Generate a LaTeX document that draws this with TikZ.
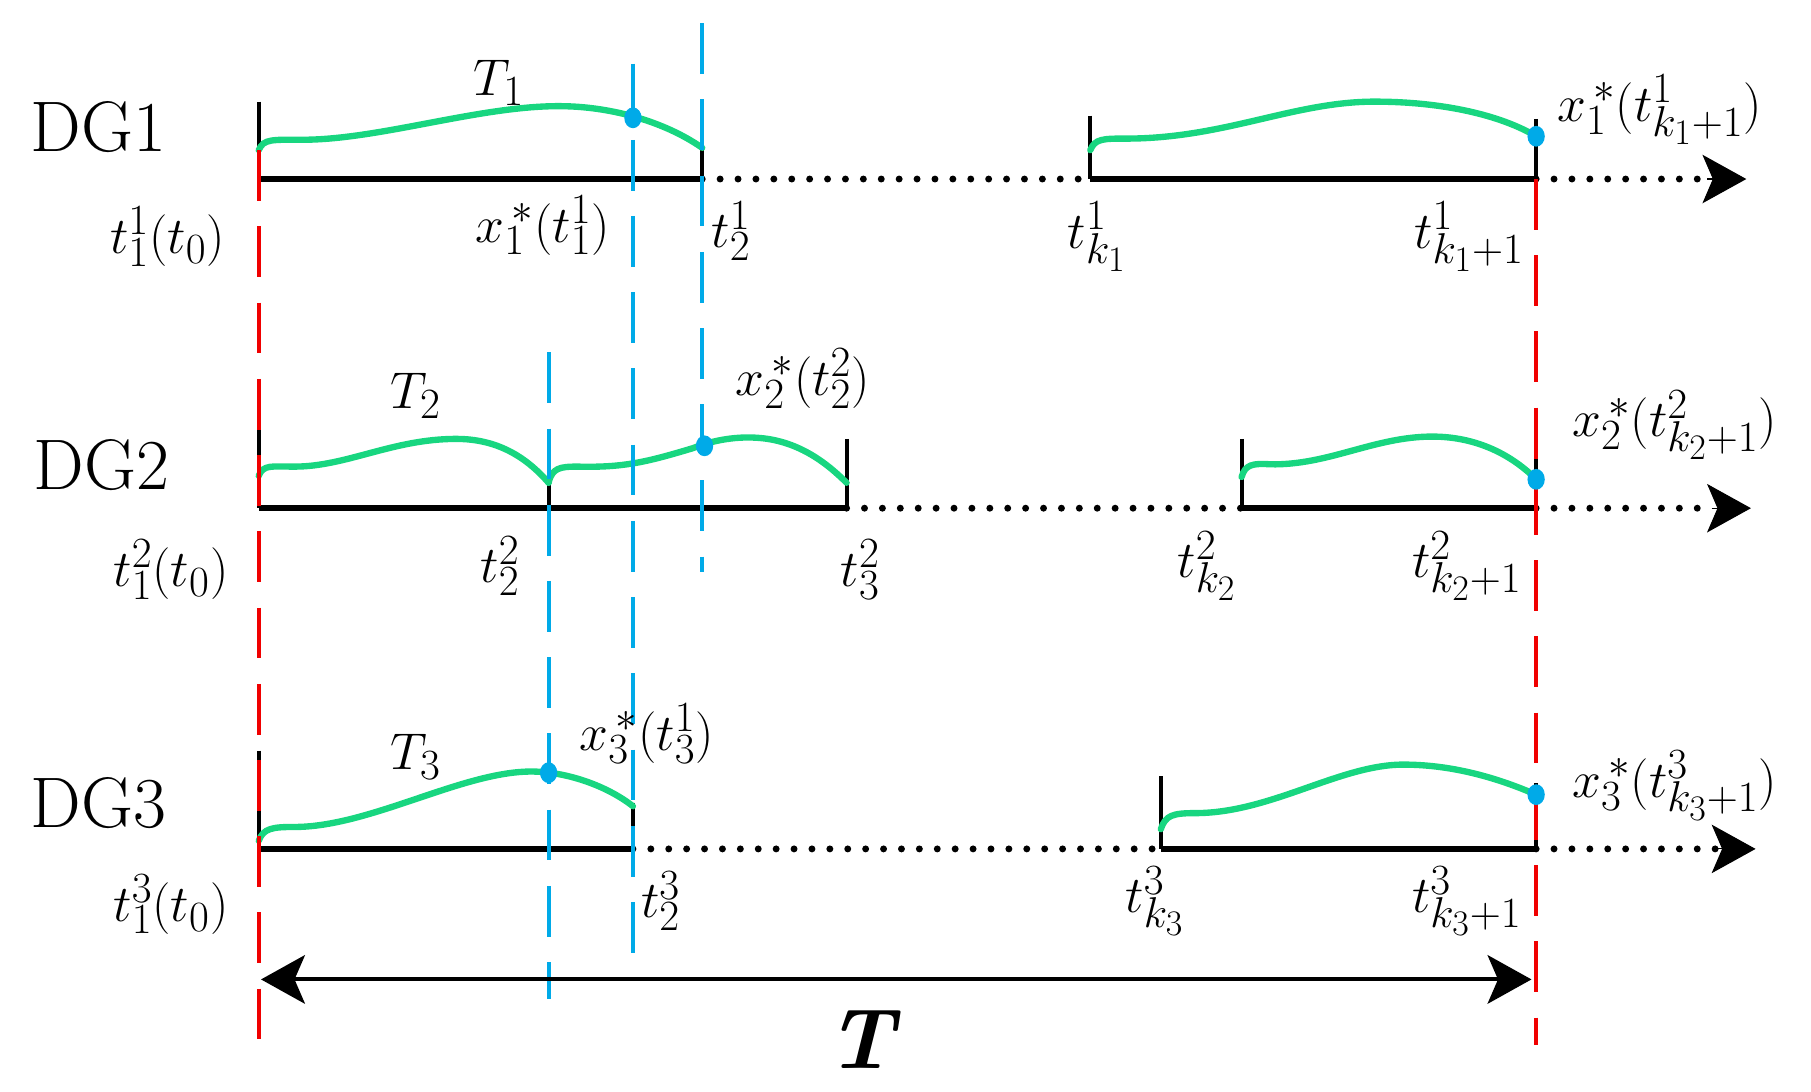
\documentclass[tikz,border=0pt]{standalone}
\usepackage{graphicx}
\usetikzlibrary{arrows.meta}
\definecolor{cgreen}{RGB}{24,214,128}
\definecolor{cblue}{RGB}{0,170,232}
\definecolor{cred}{RGB}{240,0,0}
\newcommand{\lblsc}[1]{\scalebox{1.8}{$#1$}}
\begin{document}
\begin{tikzpicture}[x=1pt,y=-1pt,
  axis/.style={line width=5.5pt},
  dotline/.style={line width=6pt, line cap=round, dash pattern=on 0pt off 15.5pt},
  tickline/.style={line width=3.5pt},
  curve/.style={line width=5.5pt, draw=cgreen, line cap=round},
  reddash/.style={draw=cred, line width=3.5pt, dash pattern=on 44pt off 22pt},
  bluedash/.style={draw=cblue, line width=3.5pt, dash pattern=on 44pt off 22pt},
  head/.style={line width=1pt, -{Stealth[length=38pt,width=42pt,inset=9pt]}},
  lbl/.style={inner sep=0pt, font=\fontsize{24.88}{28}\selectfont},
  dglbl/.style={inner sep=0pt, font=\fontsize{62}{64}\selectfont}
]
\useasboundingbox (0,0) rectangle (1568,945);

% ---------- coordinates ----------
\foreach \r/\y in {1/155,2/440,3/735}{
  \coordinate (a\r) at (224,\y);
  \coordinate (e\r) at (1330,\y);
}
\coordinate (b1) at (608,155);  \coordinate (c1) at (944,155);
\coordinate (b2) at (733,440);  \coordinate (c2) at (1075,440); \coordinate (m2) at (475,440);
\coordinate (b3) at (548,735);  \coordinate (c3) at (1005,735);
\coordinate (h1) at (1478,155); \coordinate (f1) at (1512,155);
\coordinate (h2) at (1482,440); \coordinate (f2) at (1516,440);
\coordinate (h3) at (1486,735); \coordinate (f3) at (1520,735);

% ---------- ticks ----------
\draw[tickline] (224,88) -- (a1);
\draw[tickline] (608,125) -- (b1);
\draw[tickline] (944,100) -- (c1);
\draw[tickline] (1330,103) -- (e1);
\draw[tickline] (224,370) -- (a2);
\draw[tickline] (475,415) -- (m2);
\draw[tickline] (733,380) -- (b2);
\draw[tickline] (1075,380) -- (c2);
\draw[tickline] (1330,388) -- (e2);
\draw[tickline] (224,650) -- (a3);
\draw[tickline] (548,695) -- (b3);
\draw[tickline] (1005,672) -- (c3);
\draw[tickline] (1330,678) -- (e3);

% ---------- axes ----------
\foreach \r in {1,2,3}{
  \draw[axis] (a\r) -- (b\r);
  \draw[dotline] (b\r) -- (c\r);
  \draw[axis] (c\r) -- (e\r);
  \draw[dotline] (e\r) -- (h\r);
  \draw[head] (h\r) -- (f\r);
}

% ---------- green curves ----------
\draw[curve] (224,130) .. controls (228,120) and (236,121) .. (262,121)
  .. controls (330,121) and (420,90) .. (490,92)
  .. controls (530,93) and (575,105) .. (608,128);
\draw[curve] (944,130) .. controls (948,120) and (955,120) .. (975,120)
  .. controls (1060,120) and (1120,88) .. (1190,88)
  .. controls (1250,88) and (1300,100) .. (1330,118);
\draw[curve] (224,412) .. controls (228,402) and (235,404) .. (255,404)
  .. controls (300,404) and (340,380) .. (395,380)
  .. controls (430,380) and (455,395) .. (475,418);
\draw[curve] (475,418) .. controls (478,405) and (485,404) .. (500,404)
  .. controls (540,405) and (560,400) .. (600,388)
  .. controls (620,380) and (640,378) .. (655,379)
  .. controls (690,381) and (715,400) .. (733,418);
\draw[curve] (1075,413) .. controls (1078,402) and (1085,401) .. (1100,402)
  .. controls (1150,403) and (1190,378) .. (1240,378)
  .. controls (1280,378) and (1310,395) .. (1330,415);
\draw[curve] (224,728) .. controls (228,717) and (236,716) .. (255,716)
  .. controls (320,716) and (400,668) .. (460,668)
  .. controls (490,668) and (525,680) .. (548,698);
\draw[curve] (1005,718) .. controls (1009,706) and (1015,704) .. (1035,704)
  .. controls (1100,704) and (1160,662) .. (1215,662)
  .. controls (1260,662) and (1300,675) .. (1330,688);

% ---------- dashed verticals ----------
\draw[reddash] (224,130) -- (224,905);
\draw[reddash] (1330,155) -- (1330,905);
\draw[bluedash] (548,55) -- (548,830);
\draw[bluedash] (608,20) -- (608,495);
\draw[bluedash] (475,305) -- (475,865);

% ---------- blue points ----------
\foreach \p in {(548,102),(1330,118),(610,386),(1330,415),(475,669),(1330,688)}
  \fill[cblue] \p ellipse (7.5pt and 9pt);

% ---------- T arrow ----------
\coordinate (Tl) at (226,848);
\coordinate (Tr) at (1326,848);
\draw[line width=3.5pt, {Stealth[length=38pt,width=42pt,inset=9pt]}-{Stealth[length=38pt,width=42pt,inset=9pt]}] (Tl) -- (Tr);
\node[inner sep=0pt, font=\fontsize{74}{76}\selectfont\bfseries\itshape] (Tlab) at (745,900) {T};

% ---------- row labels ----------
\node[dglbl] (dg1) at (85,110) {DG1};
\node[dglbl] (dg2) at (88,403) {DG2};
\node[dglbl] (dg3) at (85,695) {DG3};

% ---------- DG1 labels ----------
\node[lbl] (T1) at (432,72) {\lblsc{T_1}};
\node[lbl] (x11) at (470,195) {\lblsc{x_1^{\,*}(t_1^1)}};
\node[lbl] (t11) at (145,205) {\lblsc{t_1^1(t_0)}};
\node[lbl] (t21) at (633,200) {\lblsc{t_2^1}};
\node[lbl] (tk1) at (950,205) {\lblsc{t_{k_1}^1}};
\node[lbl] (tk11) at (1272,205) {\lblsc{t_{k_1+1}^1}};
\node[lbl] (xk1) at (1437,95) {\lblsc{x_1^{\,*}(t^1_{k_1+1})}};

% ---------- DG2 labels ----------
\node[lbl] (T2) at (360,343) {\lblsc{T_2}};
\node[lbl] (x22) at (695,328) {\lblsc{x_2^{\,*}(t_2^2)}};
\node[lbl] (t12) at (148,493) {\lblsc{t_1^2(t_0)}};
\node[lbl] (t22) at (433,490) {\lblsc{t_2^2}};
\node[lbl] (t32) at (745,493) {\lblsc{t_3^2}};
\node[lbl] (tk2) at (1045,490) {\lblsc{t_{k_2}^2}};
\node[lbl] (tk21) at (1270,490) {\lblsc{t_{k_2+1}^2}};
\node[lbl] (xk2) at (1450,368) {\lblsc{x_2^{\,*}(t^2_{k_2+1})}};

% ---------- DG3 labels ----------
\node[lbl] (T3) at (360,655) {\lblsc{T_3}};
\node[lbl] (x33) at (560,635) {\lblsc{x_3^{\,*}(t_3^1)}};
\node[lbl] (t13) at (148,783) {\lblsc{t_1^3(t_0)}};
\node[lbl] (t23) at (572,780) {\lblsc{t_2^3}};
\node[lbl] (tk3) at (1000,780) {\lblsc{t_{k_3}^3}};
\node[lbl] (tk31) at (1270,780) {\lblsc{t_{k_3+1}^3}};
\node[lbl] (xk3) at (1450,680) {\lblsc{x_3^{\,*}(t^3_{k_3+1})}};
\end{tikzpicture}
\end{document}
